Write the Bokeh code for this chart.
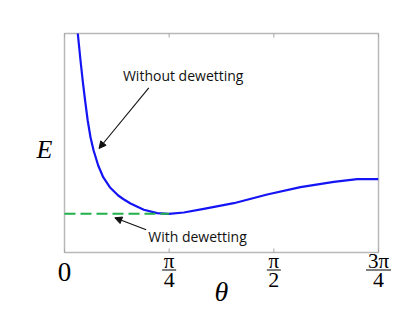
import math
from bokeh.plotting import figure
from bokeh.models import Label, Arrow, NormalHead, Range1d, ColumnDataSource
from bokeh.core.properties import value
from bokeh.embed import file_html
from bokeh.resources import INLINE

PI = math.pi

# ---- data ----
theta_vals = [0.0998, 0.1201, 0.1381, 0.1546, 0.1741, 0.1951, 0.2184, 0.2529,
              0.2904, 0.3399, 0.4030, 0.4405, 0.4953, 0.5950, 0.6956, 0.7826, 0.8952,
              1.0453, 1.2704, 1.5210, 1.7709, 2.0208, 2.1964, 2.3540]
energy_vals = [1.0, 0.8767, 0.7763, 0.6941, 0.6027, 0.5265, 0.4658, 0.3973,
               0.3438, 0.2982, 0.2603, 0.2443, 0.2237, 0.1950, 0.1795, 0.1767, 0.1826,
               0.1995, 0.2251, 0.2648, 0.2982, 0.3228, 0.3347, 0.3347]
dewet_theta = [0.0, PI / 4]
dewet_energy = [0.177, 0.177]

tick_values = [0.0, PI / 4, PI / 2, 3 * PI / 4]
tick_numerators = ["0", "π", "π", "3π"]
tick_denominators = ["", "4", "2", "4"]

annot_without = "Without dewetting"
annot_with = "With dewetting"
x_label = "θ"
y_label = "E"

# ---- layout: the whole canvas is the frame; the axes box is drawn inside it ----
X0, X1 = 0.0, 3 * PI / 4
Y0, Y1 = 0.0, 1.0
W, H = 412, 310
BOX_L, BOX_T, BOX_W, BOX_H = 64, 33, 314, 219
BOX_R = W - BOX_L - BOX_W
BOX_B = H - BOX_T - BOX_H
sx = (X1 - X0) / BOX_W
sy = (Y1 - Y0) / BOX_H

p = figure(width=W, height=H,
           x_range=Range1d(X0 - BOX_L * sx, X1 + BOX_R * sx),
           y_range=Range1d(Y0 - BOX_B * sy, Y1 + BOX_T * sy),
           x_axis_location=None, y_axis_location=None,
           output_backend="svg", toolbar_location=None,
           min_border=0, min_border_left=0, min_border_right=0,
           min_border_top=0, min_border_bottom=0)
p.grid.visible = False
p.outline_line_color = None
p.background_fill_color = "white"
p.border_fill_color = "white"

# axes box
p.quad(left=[X0], right=[X1], bottom=[Y0], top=[Y1], fill_color=None,
       line_color="#b8b8b8", line_width=1.5)

# inward ticks on bottom and top
tick_len = 4 * sy
n = len(tick_values)
p.segment(x0=tick_values, y0=[Y0] * n, x1=tick_values, y1=[Y0 + tick_len] * n,
          line_color="#a8a8a8", line_width=1)
p.segment(x0=tick_values, y0=[Y1] * n, x1=tick_values, y1=[Y1 - tick_len] * n,
          line_color="#a8a8a8", line_width=1)

src = ColumnDataSource(dict(theta=theta_vals, energy=energy_vals))
p.line("theta", "energy", source=src, line_color="#1414f5", line_width=2.2,
       line_join="round")
p.line(dewet_theta, dewet_energy, line_color="#22b04b", line_width=2, line_dash="11 5")

# ---- annotations ----
txt_font = "Open Sans"
p.add_layout(Label(x=0.8907, y=0.808, text=annot_without, text_font=txt_font,
                   text_font_size="14px", text_align="center", text_baseline="middle",
                   text_color="#111111"))
p.add_layout(Label(x=0.998, y=0.0708, text=annot_with, text_font=txt_font,
                   text_font_size="14px", text_align="center", text_baseline="middle",
                   text_color="#111111"))

p.add_layout(Arrow(x_start=0.6326, y_start=0.752, x_end=0.2589, y_end=0.4749,
                   line_color="#111111", line_width=1.1,
                   end=NormalHead(size=7, fill_color="#111111", line_color="#111111")))
p.add_layout(Arrow(x_start=0.613, y_start=0.1037, x_end=0.3774, y_end=0.1584,
                   line_color="#111111", line_width=1.1,
                   end=NormalHead(size=7, fill_color="#111111", line_color="#111111")))

# ---- tick labels (fractions) ----
serif = "Liberation Serif"
single_x, single_t = [], []
num_x, num_t, den_x, den_t = [], [], [], []
bar_x0, bar_x1 = [], []
for t, num, den in zip(tick_values, tick_numerators, tick_denominators):
    if den == "":
        single_x.append(t)
        single_t.append(num)
        continue
    num_x.append(t)
    num_t.append(num)
    den_x.append(t)
    den_t.append(den)
    half = (7 if len(num) == 1 else 12.5) * sx
    bar_x0.append(t - half)
    bar_x1.append(t + half)

p.text(x=single_x, y=[Y0 - 19 * sy] * len(single_x), text=single_t,
       text_font=value(serif), text_font_size="27px", text_align="center",
       text_baseline="middle", text_color="black")
p.text(x=num_x, y=[Y0 - 8 * sy] * len(num_x), text=num_t,
       text_font=value(serif), text_font_size="21px", text_align="center",
       text_baseline="middle", text_color="black")
p.text(x=den_x, y=[Y0 - 27.5 * sy] * len(den_x), text=den_t,
       text_font=value(serif), text_font_size="22px", text_align="center",
       text_baseline="middle", text_color="black")
p.segment(x0=bar_x0, y0=[Y0 - 17.5 * sy] * len(bar_x0), x1=bar_x1,
          y1=[Y0 - 17.5 * sy] * len(bar_x0), line_color="black", line_width=1)

p.text(x=[(X0 + X1) / 2], y=[Y0 - 39 * sy], text=[x_label], text_font=value(serif),
       text_font_style="italic", text_font_size="28px", text_align="center",
       text_baseline="middle", text_color="black")
p.text(x=[X0 - 20 * sx], y=[0.47], text=[y_label], text_font=value(serif),
       text_font_style="italic", text_font_size="26px", text_align="center",
       text_baseline="middle", text_color="black")

open("out.html", "w").write(file_html(p, INLINE))
